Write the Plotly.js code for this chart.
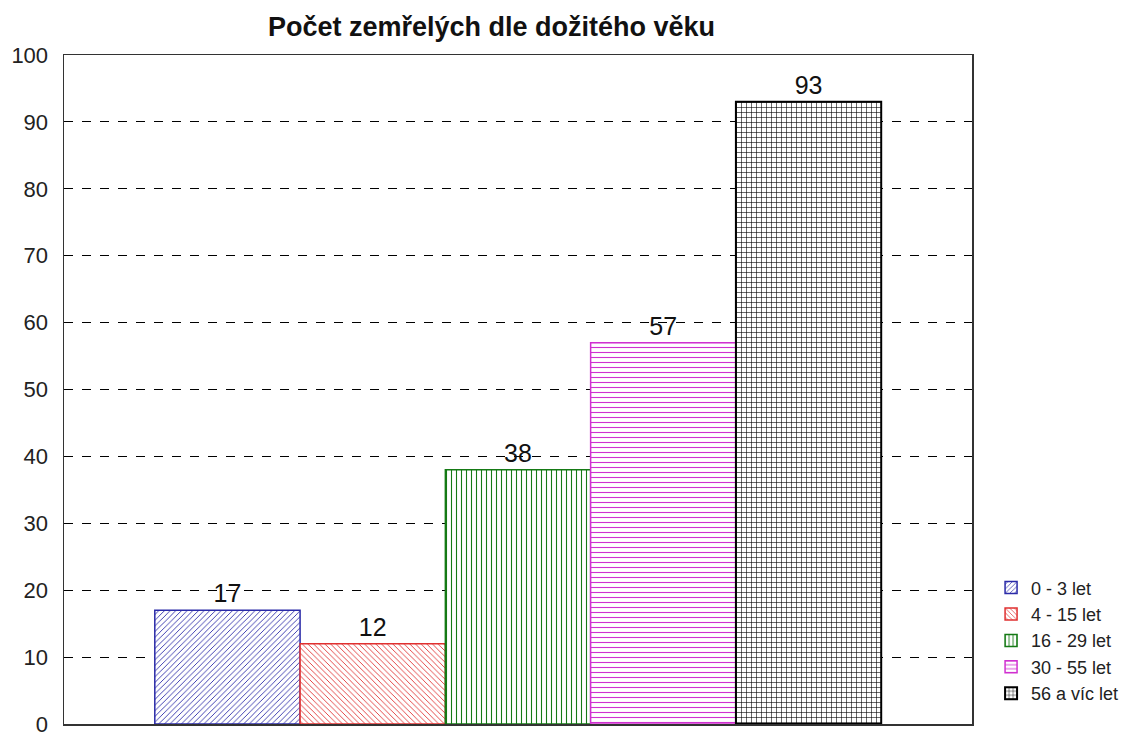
<!DOCTYPE html>
<html><head><meta charset="utf-8">
<script src="https://cdn.plot.ly/plotly-3.0.1.min.js"></script>
<style>html,body{margin:0;padding:0;background:#fff}#chart{width:1146px;height:736px}</style>
</head><body><div id="chart"></div>
<script>
const categories = ["0 - 3 let", "4 - 15 let", "16 - 29 let", "30 - 55 let", "56 a víc let"];
const values = [17, 12, 38, 57, 93];
const colors = ["#2a2aa8", "#e03030", "#157a15", "#d030d0", "#000000"];
const shapes = ["/", "\\", "|", "-", "+"];
const sizes = [4, 4, 5, 5, 5];
const yTicks = [0, 10, 20, 30, 40, 50, 60, 70, 80, 90, 100];

const traces = categories.map((c, i) => ({
  type: "bar",
  name: c,
  x: [""],
  y: [values[i]],
  text: [String(values[i])],
  textposition: "outside",
  textfont: {size: 25, color: "#111", family: "Liberation Sans, Arial"},
  cliponaxis: false,
  marker: {
    color: "#ffffff",
    line: {color: colors[i], width: i === 4 ? 2 : 1.5},
    pattern: {shape: shapes[i], fgcolor: colors[i], bgcolor: "#ffffff", size: sizes[i], solidity: 0.22, fillmode: "replace"}
  },
  hoverinfo: "skip"
}));

const layout = {
  width: 1146, height: 736,
  margin: {l: 64, r: 174, t: 55, b: 12},
  paper_bgcolor: "#fff", plot_bgcolor: "#fff",
  font: {family: "Liberation Sans, Arial", color: "#222", size: 16},
  title: {text: "<b>Počet zemřelých dle dožitého věku</b>", font: {size: 27, color: "#111"}, x: 0.4289, xref: "container", y: 0.964, yref: "container", xanchor: "center", yanchor: "middle"},
  barmode: "group", bargap: 0.2, bargroupgap: 0,
  showlegend: true,
  legend: {x: 1.021, xanchor: "left", y: 0.125, yanchor: "middle", traceorder: "normal", font: {size: 18, color: "#222"}, itemwidth: 30, tracegroupgap: 0, bgcolor: "rgba(0,0,0,0)"},
  xaxis: {showticklabels: false, ticks: "", showgrid: false, zeroline: false, showline: true, linecolor: "#333", linewidth: 1.5, mirror: true, fixedrange: true},
  yaxis: {range: [0, 100], tickvals: yTicks, ticktext: yTicks.map(String), showgrid: true, gridcolor: "#000", griddash: "dash", gridwidth: 1, zeroline: false, showline: true, linecolor: "#333", linewidth: 1.5, mirror: true, ticks: "", ticklen: 0, ticklabelstandoff: 10, ticklabeloverflow: "allow", tickfont: {size: 22, color: "#222"}, fixedrange: true}
};

Plotly.newPlot("chart", traces, layout, {displayModeBar: false, staticPlot: true});
</script></body></html>
